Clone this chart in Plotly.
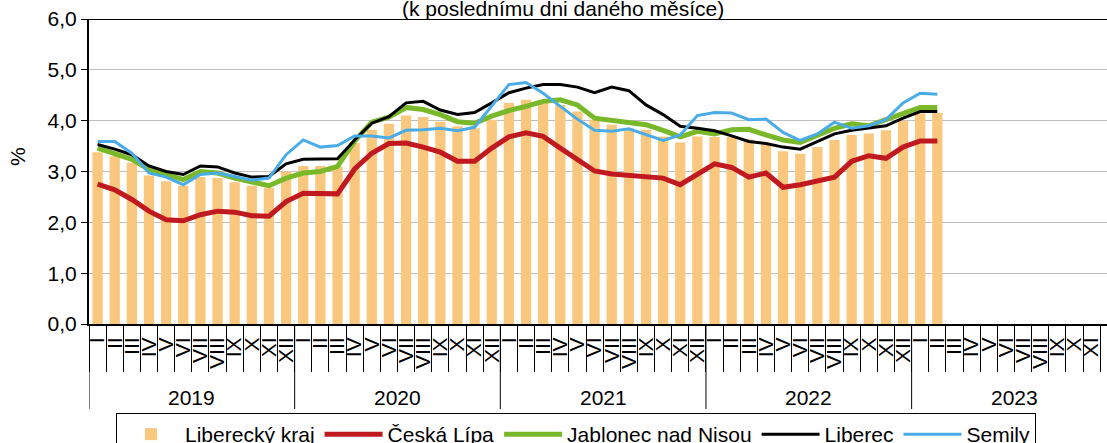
import plotly.graph_objects as go

years = ["2019", "2020", "2021", "2022", "2023"]
months = ["I", "II", "III", "IV", "V", "VI", "VII", "VIII", "IX", "X", "XI", "XII"]

liberecky_kraj = [3.38, 3.30, 3.17, 2.92, 2.81, 2.72, 2.89, 2.87, 2.79, 2.72, 2.68, 3.00,
                  3.11, 3.11, 3.10, 3.56, 3.82, 3.94, 4.10, 4.07, 3.98, 3.89, 3.85, 4.02,
                  4.35, 4.41, 4.38, 4.31, 4.18, 4.02, 3.92, 3.85, 3.82, 3.69, 3.57, 3.69,
                  3.68, 3.68, 3.63, 3.55, 3.40, 3.35, 3.48, 3.62, 3.72, 3.75, 3.81, 4.00,
                  4.14, 4.15]
ceska_lipa = [2.75, 2.64, 2.45, 2.22, 2.05, 2.03, 2.15, 2.22, 2.20, 2.13, 2.12, 2.41,
              2.57, 2.57, 2.56, 3.05, 3.36, 3.55, 3.56, 3.48, 3.38, 3.20, 3.20, 3.46,
              3.68, 3.76, 3.69, 3.46, 3.24, 3.01, 2.95, 2.93, 2.91, 2.87, 2.74, 2.95,
              3.15, 3.08, 2.89, 2.97, 2.69, 2.74, 2.81, 2.89, 3.20, 3.31, 3.26, 3.48,
              3.60, 3.60]
jablonec = [3.46, 3.36, 3.24, 3.04, 2.94, 2.84, 3.00, 2.97, 2.87, 2.79, 2.72, 2.87,
            2.97, 3.00, 3.10, 3.60, 3.97, 4.07, 4.26, 4.22, 4.12, 3.98, 3.95, 4.09,
            4.20, 4.28, 4.38, 4.41, 4.31, 4.05, 4.00, 3.97, 3.92, 3.81, 3.68, 3.79,
            3.74, 3.82, 3.83, 3.72, 3.62, 3.57, 3.72, 3.85, 3.94, 3.90, 4.02, 4.15,
            4.26, 4.26]
liberec = [3.53, 3.44, 3.33, 3.11, 3.00, 2.94, 3.11, 3.09, 2.97, 2.89, 2.90, 3.15,
           3.24, 3.25, 3.25, 3.62, 3.95, 4.08, 4.35, 4.38, 4.21, 4.12, 4.16, 4.35,
           4.55, 4.64, 4.71, 4.71, 4.66, 4.55, 4.66, 4.59, 4.31, 4.12, 3.89, 3.85,
           3.80, 3.70, 3.59, 3.55, 3.48, 3.44, 3.59, 3.74, 3.81, 3.85, 3.90, 4.05,
           4.18, 4.18]
semily = [3.59, 3.59, 3.36, 2.97, 2.89, 2.74, 2.94, 2.97, 2.90, 2.83, 2.87, 3.33,
          3.62, 3.48, 3.51, 3.70, 3.70, 3.66, 3.81, 3.82, 3.85, 3.80, 3.87, 4.28,
          4.71, 4.75, 4.54, 4.28, 4.03, 3.81, 3.79, 3.84, 3.72, 3.61, 3.72, 4.10,
          4.16, 4.15, 4.02, 4.03, 3.77, 3.61, 3.74, 3.97, 3.85, 3.90, 4.02, 4.35,
          4.54, 4.52]

subtitle = "(k poslednímu dni daného měsíce)"
y_title = "%"

n_all = len(years) * len(months)
x_all = list(range(n_all))
x_data = list(range(len(liberecky_kraj)))

FONT = "Liberation Sans, Arial, sans-serif"

fig = go.Figure()
fig.add_bar(x=x_data, y=liberecky_kraj, name="Liberecký kraj",
            marker=dict(color="#F9C77E", line=dict(width=0)))
lines = [
    ("Česká Lípa", ceska_lipa, "#C0191F", 5),
    ("Jablonec nad Nisou", jablonec, "#79B829", 5),
    ("Liberec", liberec, "#000000", 3),
    ("Semily", semily, "#49ACE6", 3),
]
for name, vals, color, w in lines:
    fig.add_scatter(x=x_data, y=vals, mode="lines", name=name,
                    line=dict(color=color, width=w))

plot_h = 443 - 19 - 119

shapes = []
for k in range(len(years) + 1):
    shapes.append(dict(type="line", xref="x", yref="paper",
                       x0=k * 12 - 0.5, x1=k * 12 - 0.5,
                       y0=0, y1=-85 / plot_h,
                       line=dict(color="black", width=1)))
shapes.append(dict(type="line", xref="paper", yref="y", x0=0, x1=1, y0=6, y1=6,
                   line=dict(color="black", width=2)))

annotations = []
for k, yr in enumerate(years):
    annotations.append(dict(x=k * 12 + 5.5, xref="x", y=-(397 - 324) / plot_h, yref="paper",
                            text=yr, showarrow=False, yanchor="middle", xanchor="center",
                            font=dict(size=21, family=FONT, color="black")))
annotations.append(dict(x=(563 - 89) / 1018, xref="paper", y=1 + (19 - 8) / plot_h, yref="paper",
                        text=subtitle, showarrow=False, yanchor="middle", xanchor="center",
                        font=dict(size=21, family=FONT, color="black")))
annotations.append(dict(x=(17 - 89) / 1018, xref="paper", y=(324 - 157) / plot_h, yref="paper",
                        text=y_title, showarrow=False, textangle=-90,
                        yanchor="middle", xanchor="center",
                        font=dict(size=21, family=FONT, color="black")))

fig.update_layout(
    width=1107, height=443,
    margin=dict(l=89, r=0, t=19, b=119, autoexpand=False),
    plot_bgcolor="white", paper_bgcolor="white",
    bargap=0.4, separators=", ",
    font=dict(family=FONT, size=21, color="black"),
    legend=dict(orientation="h", x=(116 - 89) / 1018, xanchor="left",
                y=-(413 - 324) / plot_h, yanchor="top",
                bordercolor="black", borderwidth=1,
                font=dict(size=21, family=FONT), itemwidth=58,
                traceorder="normal"),
    shapes=shapes, annotations=annotations,
)
fig.update_xaxes(range=[-0.5, 58.9], tickmode="array", tickvals=x_all,
                 ticktext=months * len(years), tickangle=-90, ticks="",
                 ticklabelstandoff=3,
                 showline=True, linecolor="black", linewidth=2,
                 showgrid=False, zeroline=False, tickfont=dict(size=21, family=FONT),
                 minor=dict(tickmode="array", tickvals=[i - 0.5 for i in range(n_all + 1)],
                            ticks="outside", ticklen=46, tickcolor="black", tickwidth=1,
                            showgrid=False))
fig.update_yaxes(range=[0, 6], tickmode="array", tickvals=[0, 1, 2, 3, 4, 5, 6],
                 tickformat=".1f", ticks="outside", ticklen=6, tickcolor="black",
                 showline=True, linecolor="black", linewidth=2,
                 gridcolor="#BFBFBF", gridwidth=1, zeroline=False,
                 tickfont=dict(size=21, family=FONT))

fig.write_html("out.html", config={"displayModeBar": False},
               post_script="document.body.style.margin='0px';document.body.style.overflow='hidden';")
